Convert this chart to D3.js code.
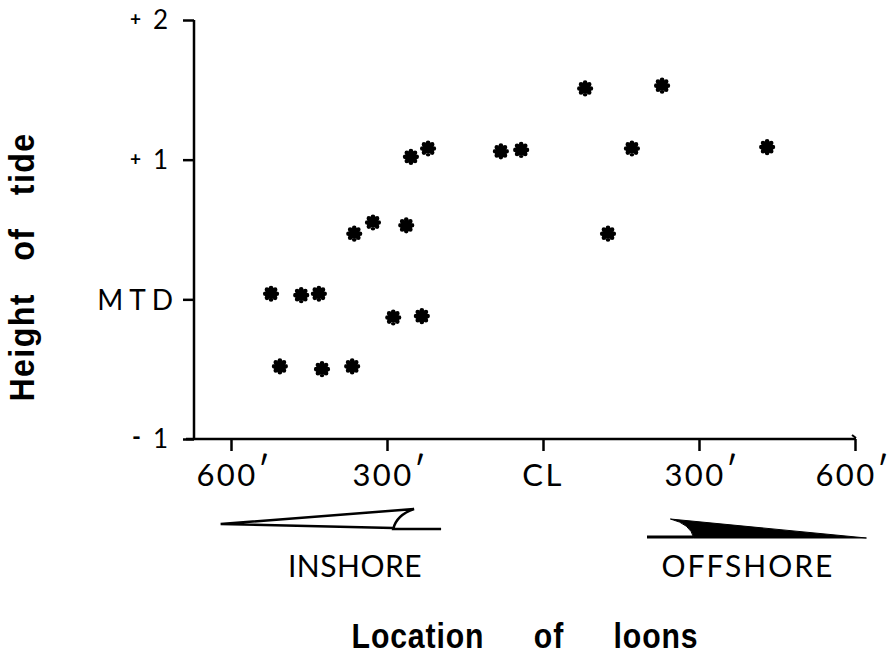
<!DOCTYPE html>
<html>
<head>
<meta charset="utf-8">
<script src="https://cdn.jsdelivr.net/npm/d3@7"></script>
<style>
  body { margin: 0; background: #fff; }
  .tick-lab { font-family: Lato, "Open Sans", sans-serif; font-weight: 400; fill: #000; }
  .title { font-family: "Liberation Sans", Arial, sans-serif; font-weight: bold; fill: #000; }
</style>
</head>
<body>
<svg id="chart"></svg>
<script>
// distance from channel centre line, feet (negative = inshore side)
const locationFt = [-523, -506, -465, -431, -425, -367, -363, -327, -288, -263,
                    -254, -233, -221, -81, -42, 81, 125, 171, 229, 431];
// height of tide relative to mean tide (MTD)
const tideHeight = [0.04, -0.48, 0.03, 0.04, -0.50, -0.48, 0.47, 0.55, -0.13, 0.53,
                    1.02, -0.12, 1.08, 1.06, 1.07, 1.51, 0.47, 1.08, 1.53, 1.09];

const xTicks = [-600, -300, 0, 300, 600];
const xTickLabels = ["600", "300", "CL", "300", "600"];
const yTicks = [-1, 0, 1, 2];
const yTickLabels = ["1", "MTD", "1", "2"];
const ySigns = ["-", "", "+", "+"];

var width = 892, height = 658;
var svg = d3.select("#chart").attr("width", width).attr("height", height);

var x = d3.scaleLinear().domain([-600, 600]).range([231, 855]);
var y = d3.scaleLinear().domain([-1, 2]).range([439, 20]);
var axisX = 194;  // where the y axis stands

// y axis
var yAxis = svg.append("g")
  .attr("transform", "translate(" + axisX + ",0)")
  .call(d3.axisLeft(y).tickValues(yTicks).tickSize(11).tickSizeOuter(0).tickFormat(""));
yAxis.select(".domain").attr("stroke", "#000").attr("stroke-width", 2.5)
  .attr("d", "M0," + y(2) + "V" + (y(-1) + 1));
yAxis.selectAll(".tick line").attr("stroke", "#000").attr("stroke-width", 2.5);

// y tick labels
yTicks.forEach(function (t, i) {
  var isWord = yTickLabels[i] === "MTD";
  svg.append("text").attr("class", "tick-lab")
    .attr("x", isWord ? 179 : 168).attr("y", y(t) + (isWord ? 11 : 9))
    .attr("text-anchor", "end")
    .style("font-size", isWord ? "28px" : "26px")
    .style("letter-spacing", isWord ? "6px" : "0px")
    .text(yTickLabels[i]);
  if (ySigns[i]) {
    svg.append("text").attr("class", "tick-lab")
      .attr("x", 141).attr("y", y(t) + 6)
      .attr("text-anchor", "end")
      .style("font-size", ySigns[i] === "+" ? "19px" : "24px")
      .style("font-weight", 700)
      .text(ySigns[i]);
  }
});

// x axis
var xAxis = svg.append("g")
  .attr("transform", "translate(0," + y(-1) + ")")
  .call(d3.axisBottom(x).tickValues(xTicks).tickSize(12).tickSizeOuter(0).tickFormat(""));
xAxis.select(".domain").attr("stroke", "#000").attr("stroke-width", 2.5)
  .attr("d", "M186,0H" + (x(600) + 1));
xAxis.selectAll(".tick line").attr("stroke", "#000").attr("stroke-width", 2.5);
// little hook at the right end
svg.append("path").attr("d", "M" + (x(600) - 3) + "," + (y(-1) - 4) + "l4,3")
  .attr("stroke", "#000").attr("stroke-width", 2).attr("fill", "none");

var xl = svg.selectAll(".xlab").data(xTicks).enter().append("text")
  .attr("class", "tick-lab xlab")
  .attr("x", function (d) { return d === 600 ? x(d) - 3 : x(d) + (d === 0 ? 0 : 2); })
  .attr("y", y(-1) + 47)
  .attr("text-anchor", "middle")
  .style("font-size", "31px")
  .style("letter-spacing", "2.5px");
xl.append("tspan").text(function (d, i) { return xTickLabels[i]; });
xl.filter(function (d) { return d !== 0; }).append("tspan")
  .attr("dy", -3).style("font-size", "36px").style("letter-spacing", "0px").text("\u2032");

// inshore / offshore arrows
var ay = y(-1);
var inshore = d3.path();
inshore.moveTo(x(-620), ay + 85);
inshore.lineTo(x(-248), ay + 70);
inshore.quadraticCurveTo(x(-282), ay + 76, x(-288), ay + 90);
inshore.lineTo(x(-196), ay + 90);
inshore.moveTo(x(-288), ay + 89);
inshore.lineTo(x(-620), ay + 85);
svg.append("path").attr("d", inshore.toString())
  .attr("fill", "none").attr("stroke", "#000").attr("stroke-width", 2.5)
  .attr("stroke-linejoin", "miter");

var offTail = d3.path();
offTail.moveTo(x(200), ay + 98);
offTail.lineTo(x(290), ay + 98);
svg.append("path").attr("d", offTail.toString())
  .attr("stroke", "#000").attr("stroke-width", 3);
var offshore = d3.path();
offshore.moveTo(x(245), ay + 80);
offshore.quadraticCurveTo(x(284), ay + 85, x(290), ay + 99);
offshore.lineTo(x(622), ay + 99);
offshore.closePath();
svg.append("path").attr("d", offshore.toString()).attr("fill", "#000")
  .attr("stroke", "#000").attr("stroke-width", 1);

svg.append("text").attr("class", "tick-lab")
  .attr("x", 355).attr("y", 577).attr("text-anchor", "middle")
  .style("font-size", "30px").style("letter-spacing", "0.5px").text("INSHORE");
svg.append("text").attr("class", "tick-lab")
  .attr("x", 748).attr("y", 577).attr("text-anchor", "middle")
  .style("font-size", "30px").style("letter-spacing", "2px").text("OFFSHORE");

// asterisk-like markers
var blob = {
  draw: function (ctx) {
    var r = 5.4, lr = 2.3;
    ctx.moveTo(r, 0);
    ctx.arc(0, 0, r, 0, 2 * Math.PI);
    for (var k = 0; k < 8; k++) {
      var a = k * Math.PI / 4, cx = 5.8 * Math.cos(a), cy = 5.8 * Math.sin(a);
      ctx.moveTo(cx + lr, cy);
      ctx.arc(cx, cy, lr, 0, 2 * Math.PI);
    }
  }
};
svg.selectAll(".pt").data(locationFt).enter().append("path")
  .attr("class", "pt")
  .attr("d", d3.symbol().type(blob))
  .attr("transform", function (d, i) { return "translate(" + x(d) + "," + y(tideHeight[i]) + ")"; })
  .attr("fill", "#000");

// axis titles
svg.append("text").attr("class", "title")
  .attr("transform", "translate(34,267) rotate(-90) scale(0.92,1)")
  .attr("text-anchor", "middle")
  .style("font-size", "35px").style("word-spacing", "24px").style("letter-spacing", "1.5px")
  .text("Height of tide");
svg.append("text").attr("class", "title")
  .attr("transform", "translate(525,648) scale(0.84,1)")
  .attr("text-anchor", "middle")
  .style("font-size", "36px").style("word-spacing", "48px").style("letter-spacing", "1px")
  .text("Location of loons");
</script>
</body>
</html>
